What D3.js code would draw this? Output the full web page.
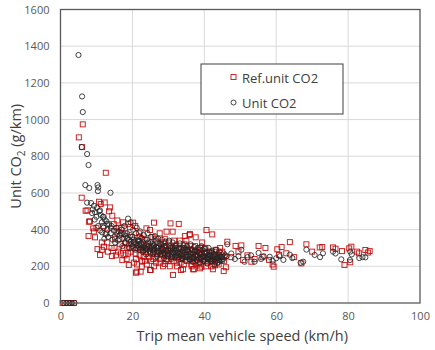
<!DOCTYPE html>
<html>
<head>
<meta charset="utf-8">
<script src="https://cdn.jsdelivr.net/npm/d3@7"></script>
<style>
  body { margin: 0; background: #fff; }
  text { font-family: "Open Sans", "Noto Sans", sans-serif; }
</style>
</head>
<body>
<div id="chart"></div>
<script>
// speed (km/h), unit CO2 (g/km)
var refUnitCO2 = [
  [0.6,0],[1.3,0],[2.1,0],[2.9,0],[3.7,0],
  [6.2,974],[5.1,903],[6.0,850],[12.6,710],[5.9,574],[7.0,503],[7.5,505],[7.9,443],[8.2,445],[7.8,365],
  [10.7,552],[13.8,521],[14.4,476],[11.9,420],[9.1,407],[9.6,358],[10.3,294],[11.0,262],[12.1,307],[14.3,256],
  [13.2,280],[11.5,330],[9.3,390],[10.0,410],[12.3,548],[11.2,540],[13.5,500],[15.0,300],[16.0,280],[17.2,234],
  [19.0,207],[21.0,165],[22.3,171],[24.9,180],[26.0,438],[30.6,434],[32.9,431],[31.3,153],[33.5,180],[37.1,184],
  [29.0,213],[24.9,398],[27.6,380],[29.5,389],[31.2,389],[34.6,365],[35.9,370],[37.6,358],[20.2,438],[19.3,413],
  [23.9,407],[21.2,171],[22.6,198],[25.1,180],[34.1,184],[36.9,184],[38.8,189],[40.6,398],[36.0,376],[42.2,374],
  [39.2,198],[42.4,184],[45.4,174],[14.8,430],[15.6,390],[16.4,350],[17.0,410],[18.0,380],[18.6,300],[17.8,260],
  [16.6,320],[15.4,260],[19.8,360],[20.6,330],[21.5,300],[22.0,260],[22.8,350],[23.5,230],[24.2,320],[25.0,280],
  [25.8,240],[26.5,350],[27.2,300],[28.0,260],[28.6,330],[29.3,230],[30.0,290],[30.8,250],[31.6,340],[32.3,220],
  [33.0,300],[33.8,260],[34.5,320],[35.2,230],[36.0,290],[36.7,250],[37.4,310],[38.2,220],[38.9,280],[39.6,240],
  [40.3,300],[41.0,220],[41.8,270],[42.5,240],[43.2,290],[44.0,210],[44.8,260],[45.5,230],[19.5,280],[20.4,220],
  [21.8,380],[23.0,290],[24.6,250],[26.0,200],[27.6,220],[29.0,350],[30.4,200],[32.0,280],[33.5,240],[35.0,340],
  [36.4,210],[37.9,265],[39.4,330],[40.8,250],[42.0,200],[43.6,250],[44.4,300],[18.4,240],[21.0,240],[22.4,320],
  [23.8,280],[25.4,310],[26.8,270],[28.3,290],[29.8,260],[31.2,300],[32.6,250],[34.0,270],[35.6,260],[37.0,230],
  [38.5,290],[40.0,270],[41.4,240],[42.9,260],[15.8,450],[17.4,440],[18.9,430],[20.8,420],[22.0,360],[23.4,345],
  [25.6,360],[27.0,330],[28.8,310],[30.2,330],[31.8,310],[33.2,340],[34.8,290],[36.2,310],[37.6,280],[39.0,300],
  [19.0,320],[20.0,300],[20.9,270],[21.6,340],[22.2,290],[23.1,250],[23.9,310],[24.4,270],[25.2,230],[25.9,300],
  [26.4,250],[27.1,280],[27.8,240],[28.4,270],[29.1,300],[29.6,240],[30.3,310],[30.9,270],[31.5,230],[32.1,300],
  [32.8,270],[33.4,220],[34.0,300],[34.7,250],[35.4,280],[36.1,240],[36.8,290],[37.5,220],[38.1,260],[38.8,300],
  [39.5,250],[40.1,230],[40.8,280],[41.5,260],[42.2,230],[42.8,280],[43.5,220],[44.2,250],[45.0,280],[45.6,250],
  [21.3,210],[22.7,230],[24.0,210],[26.6,220],[28.5,200],[30.0,230],[32.4,200],[34.3,210],[36.5,200],[38.6,210],
  [40.5,200],[43.0,205],[15.2,350],[16.2,410],[17.6,300],[18.2,330],[14.2,300],[13.0,330],[12.8,380],[11.5,290],
  [16.8,270],[18.8,270],
  [46.4,334],[48.7,311],[50.3,314],[55.1,311],[60.3,293],[63.8,332],[68.4,320],[72.1,303],[75.8,303],[78.3,283],
  [80.9,307],[83.0,271],[84.8,289],[86.0,283],[79.0,207],[80.6,222],[59.3,198],[59.0,210],[53.1,225],[50.8,234],
  [67.0,216],[62.8,271],[57.0,300],[47.5,250],[49.5,280],[52.0,260],[54.0,240],[56.2,250],[58.0,235],[60.8,262],
  [65.0,250],[70.0,280],[72.8,305],[76.5,296],[80.3,298],[82.5,280],[85.5,275],[61.5,305],[46.0,195]
];

var unitCO2 = [
  [0.8,0],[1.6,0],[2.4,0],[3.2,0],[3.9,0],
  [5.0,1352],[6.0,1126],[6.2,1041],[5.9,850],[7.4,812],[7.8,752],[6.9,643],[8.0,627],[10.3,643],[10.5,630],
  [10.4,610],[13.9,601],[7.4,547],[8.5,545],[9.3,530],[9.0,510],[9.6,495],[8.8,490],[10.2,520],[10.8,500],
  [11.2,480],[11.8,470],[12.3,455],[12.8,445],[13.5,430],[14.2,420],[10.0,470],[11.5,440],[9.5,455],[12.0,410],
  [13.0,400],[14.8,395],[15.5,410],[16.2,390],[17.0,400],[17.8,420],[18.8,460],[19.5,440],[11.0,395],[10.5,420],
  [14.0,380],[15.0,360],[16.5,370],[17.5,350],[18.5,380],[19.0,345],[20.0,360],[20.5,330],[21.0,380],[21.5,340],
  [22.0,320],[22.5,355],[23.0,330],[23.5,300],[24.0,345],[24.5,310],[25.0,330],[25.5,290],[26.0,315],[26.5,340],
  [27.0,300],[27.5,280],[28.0,320],[28.5,295],[29.0,270],[29.5,310],[30.0,285],[30.5,300],[31.0,260],[31.5,290],
  [32.0,310],[32.5,275],[33.0,295],[33.5,260],[34.0,285],[34.5,300],[35.0,265],[35.5,280],[36.0,250],[36.5,290],
  [37.0,270],[37.5,255],[38.0,280],[38.5,245],[39.0,265],[39.5,290],[40.0,255],[40.5,270],[41.0,240],[41.5,260],
  [42.0,275],[42.5,235],[43.0,255],[43.5,245],[44.0,265],[44.5,230],[45.0,250],
  [19.2,300],[20.8,290],[21.8,305],[22.8,280],[23.8,265],[24.8,285],[25.8,270],[26.8,255],[27.8,265],[28.8,245],
  [29.8,255],[30.8,240],[31.8,250],[32.8,235],[33.8,245],[34.8,230],[35.8,240],[36.8,225],[37.8,235],[38.8,220],
  [39.8,230],[40.8,215],[41.8,225],[42.8,210],[43.8,220],
  [20.2,400],[21.2,410],[22.2,390],[23.2,370],[24.2,380],[25.2,360],[26.2,365],[27.2,350],[28.2,345],[29.2,335],
  [30.2,340],[31.2,330],[32.2,320],[33.2,325],[34.2,315],[35.2,310],[36.2,320],[37.2,305],[38.2,300],[39.2,310],
  [40.2,295],[41.2,300],[42.2,285],[43.2,290],[44.2,280],
  [18.0,330],[19.8,320],[21.4,315],[23.4,310],[25.4,305],[27.4,310],[29.4,290],[31.4,275],[33.4,280],[35.4,290],
  [37.4,285],[39.4,270],[41.4,280],[43.4,265],[45.4,270],[46.2,255],[17.2,310],[16.0,340],[15.2,330],[14.5,345],
  [13.2,360],[12.5,375],[11.6,385],[12.2,350],
  [18.5,350],[19.6,335],[20.4,345],[21.1,325],[21.9,340],[22.6,300],[23.1,315],[23.7,295],[24.4,330],[24.9,300],
  [25.6,320],[26.1,290],[26.6,305],[27.1,285],[27.7,320],[28.1,300],[28.7,275],[29.1,310],[29.6,280],[30.1,265],
  [30.6,285],[31.1,300],[31.7,270],[32.1,290],[32.6,260],[33.1,270],[33.6,295],[34.1,255],[34.6,275],[35.1,290],
  [35.6,255],[36.1,270],[36.6,245],[37.1,280],[37.6,260],[38.1,250],[38.6,270],[39.1,240],[39.6,255],[40.1,275],
  [40.6,245],[41.1,260],[41.6,235],[42.1,250],[42.6,265],[43.1,240],[43.6,255],[44.1,235],[44.6,250],[45.2,240],
  [45.8,260],[20.0,310],[21.0,300],[22.0,290],[23.0,285],[24.0,295],[25.0,270],[26.0,280],[27.0,265],[28.0,280],
  [29.0,260],[30.0,270],[31.0,250],[32.0,260],[33.0,250],[34.0,240],[35.0,250],[36.0,235],[37.0,245],[38.0,230],
  [39.0,245],[40.0,235],[41.0,250],[42.0,230],[43.0,225],[44.0,245],[45.0,230],
  [16.8,380],[17.6,375],[18.2,365],[19.4,370],[15.8,375],[14.0,410],[13.0,430],[12.0,470],[11.0,505],
  [46.4,320],[47.5,270],[48.5,240],[49.5,255],[50.3,290],[51.2,225],[52.0,250],[53.0,260],[54.0,225],[55.1,273],
  [55.8,240],[56.5,255],[58.2,252],[59.0,230],[60.0,244],[61.0,255],[62.0,235],[63.8,263],[64.5,245],[66.8,220],
  [67.5,225],[68.4,291],[70.7,262],[72.2,250],[73.0,271],[75.8,280],[76.5,270],[78.1,238],[80.5,234],[80.6,280],
  [81.0,265],[83.1,245],[84.0,250],[84.8,249]
];

var xTicks = [0, 20, 40, 60, 80, 100];
var yTicks = [0, 200, 400, 600, 800, 1000, 1200, 1400, 1600];

function drawChart(id){
  var div = d3.select(id);
  var width = 435;
  var height = 350;
  var left = 60.5, right = 420, top = 9.5, bottom = 303;

  var svg = div.append("svg")
    .attr("width", width)
    .attr("height", height);

  var xScale = d3.scaleLinear().domain([0, 100]).range([left, right]);
  var yScale = d3.scaleLinear().domain([0, 1600]).range([bottom, top]);

  // gridlines
  svg.append("g").selectAll().data(xTicks.slice(1, -1)).enter().append("line")
    .attr("x1", function(d){return xScale(d);})
    .attr("x2", function(d){return xScale(d);})
    .attr("y1", top).attr("y2", bottom)
    .style("stroke", "#d9d9d9").style("stroke-width", 1);
  svg.append("g").selectAll().data(yTicks.slice(1, -1)).enter().append("line")
    .attr("y1", function(d){return yScale(d);})
    .attr("y2", function(d){return yScale(d);})
    .attr("x1", left).attr("x2", right)
    .style("stroke", "#d9d9d9").style("stroke-width", 1);

  // tick labels
  var xAxis = svg.append("g")
    .attr("transform", "translate(0," + bottom + ")")
    .call(d3.axisBottom(xScale).tickValues(xTicks).tickFormat(d3.format("d")).tickSize(0).tickPadding(9));
  xAxis.select(".domain").remove();
  xAxis.selectAll("text").style("font-size", "11px").style("fill", "#595959");

  var yAxis = svg.append("g")
    .attr("transform", "translate(" + left + ",0)")
    .call(d3.axisLeft(yScale).tickValues(yTicks).tickFormat(d3.format("d")).tickSize(0).tickPadding(11));
  yAxis.select(".domain").remove();
  yAxis.selectAll("text").style("font-size", "11px").style("fill", "#595959");

  // markers
  svg.append("g").selectAll().data(refUnitCO2).enter().append("rect")
    .attr("x", function(d){return xScale(d[0]) - 2.5;})
    .attr("y", function(d){return yScale(d[1]) - 2.5;})
    .attr("width", 5).attr("height", 5)
    .attr("fill", "none")
    .style("stroke", "#c00000").style("stroke-opacity", 0.85).style("stroke-width", 1);

  svg.append("g").selectAll().data(unitCO2).enter().append("circle")
    .attr("cx", function(d){return xScale(d[0]);})
    .attr("cy", function(d){return yScale(d[1]);})
    .attr("r", 2.6)
    .attr("fill", "none")
    .style("stroke", "#262626").style("stroke-opacity", 0.85).style("stroke-width", 1);

  // plot frame
  svg.append("rect")
    .attr("x", left).attr("y", top)
    .attr("width", right - left).attr("height", bottom - top)
    .attr("fill", "none")
    .style("stroke", "#595959").style("stroke-width", 1.3);

  // axis titles
  svg.append("text")
    .attr("x", (left + right) / 2 + 2)
    .attr("y", 341)
    .style("text-anchor", "middle")
    .style("font-size", "14.5px")
    .style("fill", "#404040")
    .text("Trip mean vehicle speed (km/h)");

  var yt = svg.append("text")
    .attr("transform", "translate(21," + ((top + bottom) / 2) + ") rotate(-90)")
    .style("text-anchor", "middle")
    .style("font-size", "14.5px")
    .style("fill", "#404040");
  yt.append("tspan").text("Unit CO");
  yt.append("tspan").attr("dy", 4).style("font-size", "10px").text("2");
  yt.append("tspan").attr("dy", -4).text(" (g/km)");

  // legend
  var lg = svg.append("g");
  lg.append("rect")
    .attr("x", 201).attr("y", 64).attr("width", 142).attr("height", 50)
    .attr("fill", "#fff").style("stroke", "#404040").style("stroke-width", 1);
  lg.append("rect")
    .attr("x", 231).attr("y", 74.5).attr("width", 5).attr("height", 5)
    .attr("fill", "none").style("stroke", "#c00000").style("stroke-opacity", 0.85);
  lg.append("circle")
    .attr("cx", 233.5).attr("cy", 102.5).attr("r", 2.5)
    .attr("fill", "none").style("stroke", "#262626").style("stroke-opacity", 0.85);
  lg.append("text").attr("x", 242).attr("y", 82.5)
    .style("font-size", "13px").style("fill", "#404040").text("Ref.unit CO2");
  lg.append("text").attr("x", 242).attr("y", 107.5)
    .style("font-size", "13px").style("fill", "#404040").text("Unit CO2");
}

drawChart("#chart");
</script>
</body>
</html>
